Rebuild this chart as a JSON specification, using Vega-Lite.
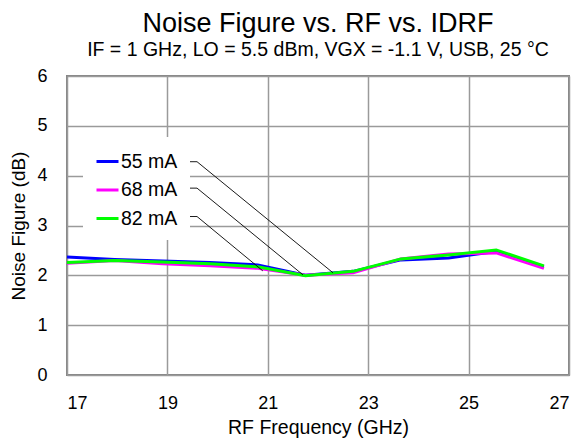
{
  "$schema": "https://vega.github.io/schema/vega-lite/v6.json",
  "width": 502,
  "height": 299,
  "autosize": "none",
  "padding": {"left": 67, "top": 76, "right": 17, "bottom": 67},
  "background": "white",
  "config": {
    "font": "Liberation Sans",
    "view": {"stroke": "#858585", "strokeWidth": 2},
    "axis": {"grid": true, "gridColor": "#9a9a9a", "gridWidth": 1.5, "domain": false, "ticks": false, "labelColor": "black", "titleColor": "black", "labelFont": "Liberation Sans", "titleFont": "Liberation Sans", "titleFontWeight": "normal"}
  },
  "title": {
    "text": "Noise Figure vs. RF vs. IDRF",
    "subtitle": "IF = 1 GHz, LO = 5.5 dBm, VGX = -1.1 V, USB, 25 °C",
    "anchor": "middle",
    "frame": "group",
    "font": "Liberation Sans",
    "fontSize": 27,
    "fontWeight": "normal",
    "color": "black",
    "subtitleFont": "Liberation Sans",
    "subtitleFontSize": 19.5,
    "subtitleColor": "black",
    "subtitlePadding": 3,
    "offset": 7
  },
  "datasets": {
    "nf": [
      {"freq": 17, "nf": 2.37, "series": "55 mA"},
      {"freq": 17.95, "nf": 2.32, "series": "55 mA"},
      {"freq": 18.9, "nf": 2.29, "series": "55 mA"},
      {"freq": 19.85, "nf": 2.26, "series": "55 mA"},
      {"freq": 20.8, "nf": 2.21, "series": "55 mA"},
      {"freq": 21.75, "nf": 2.0, "series": "55 mA"},
      {"freq": 22.7, "nf": 2.08, "series": "55 mA"},
      {"freq": 23.65, "nf": 2.31, "series": "55 mA"},
      {"freq": 24.6, "nf": 2.35, "series": "55 mA"},
      {"freq": 25.55, "nf": 2.48, "series": "55 mA"},
      {"freq": 26.5, "nf": 2.17, "series": "55 mA"},
      {"freq": 17, "nf": 2.24, "series": "68 mA"},
      {"freq": 17.95, "nf": 2.3, "series": "68 mA"},
      {"freq": 18.9, "nf": 2.23, "series": "68 mA"},
      {"freq": 19.85, "nf": 2.19, "series": "68 mA"},
      {"freq": 20.8, "nf": 2.14, "series": "68 mA"},
      {"freq": 21.75, "nf": 2.0, "series": "68 mA"},
      {"freq": 22.7, "nf": 2.05, "series": "68 mA"},
      {"freq": 23.65, "nf": 2.33, "series": "68 mA"},
      {"freq": 24.6, "nf": 2.43, "series": "68 mA"},
      {"freq": 25.55, "nf": 2.45, "series": "68 mA"},
      {"freq": 26.5, "nf": 2.14, "series": "68 mA"},
      {"freq": 17, "nf": 2.26, "series": "82 mA"},
      {"freq": 17.95, "nf": 2.3, "series": "82 mA"},
      {"freq": 18.9, "nf": 2.27, "series": "82 mA"},
      {"freq": 19.85, "nf": 2.23, "series": "82 mA"},
      {"freq": 20.8, "nf": 2.17, "series": "82 mA"},
      {"freq": 21.75, "nf": 1.99, "series": "82 mA"},
      {"freq": 22.7, "nf": 2.08, "series": "82 mA"},
      {"freq": 23.65, "nf": 2.33, "series": "82 mA"},
      {"freq": 24.6, "nf": 2.41, "series": "82 mA"},
      {"freq": 25.55, "nf": 2.51, "series": "82 mA"},
      {"freq": 26.5, "nf": 2.19, "series": "82 mA"}
    ],
    "leaders": [
      {"series": "55 mA", "step": 1, "freq": 19.25, "nf": 4.28},
      {"series": "55 mA", "step": 2, "freq": 19.59, "nf": 4.28},
      {"series": "55 mA", "step": 3, "freq": 22.3, "nf": 2.05},
      {"series": "68 mA", "step": 1, "freq": 19.25, "nf": 3.75},
      {"series": "68 mA", "step": 2, "freq": 19.59, "nf": 3.75},
      {"series": "68 mA", "step": 3, "freq": 21.7, "nf": 2.01},
      {"series": "82 mA", "step": 1, "freq": 19.25, "nf": 3.18},
      {"series": "82 mA", "step": 2, "freq": 19.59, "nf": 3.18},
      {"series": "82 mA", "step": 3, "freq": 20.9, "nf": 2.09}
    ]
  },
  "layer": [
    {
      "data": {"name": "nf"},
      "mark": {"type": "line", "strokeWidth": 3},
      "encoding": {
        "x": {"field": "freq", "type": "quantitative", "scale": {"domain": [17, 27], "nice": false}, "axis": {"values": [17, 19, 21, 23, 25, 27], "title": "RF Frequency (GHz)", "labelFontSize": 18, "titleFontSize": 19.5, "labelPadding": 19, "titlePadding": 6}},
        "y": {"field": "nf", "type": "quantitative", "scale": {"domain": [0, 6], "nice": false}, "axis": {"values": [0, 1, 2, 3, 4, 5, 6], "title": "Noise Figure (dB)", "labelFontSize": 18, "titleFontSize": 19, "labelPadding": 20, "titlePadding": 8}},
        "color": {"field": "series", "type": "nominal", "scale": {"domain": ["55 mA", "68 mA", "82 mA"], "range": ["#0000ff", "#ff00ff", "#00ff00"]},
          "legend": {"title": null, "orient": "none", "legendX": 16, "legendY": 61, "symbolType": "stroke", "symbolStrokeWidth": 3, "symbolSize": 484, "labelFontSize": 19.5, "labelFont": "Liberation Sans", "labelColor": "black", "labelOffset": 1, "rowPadding": 6.5, "padding": 12, "fillColor": "white"}},
        "order": {"field": "freq"}
      }
    },
    {
      "data": {"name": "leaders"},
      "mark": {"type": "line", "color": "black", "strokeWidth": 0.9},
      "encoding": {
        "x": {"field": "freq", "type": "quantitative"},
        "y": {"field": "nf", "type": "quantitative"},
        "detail": {"field": "series"},
        "order": {"field": "step"}
      }
    }
  ]
}
